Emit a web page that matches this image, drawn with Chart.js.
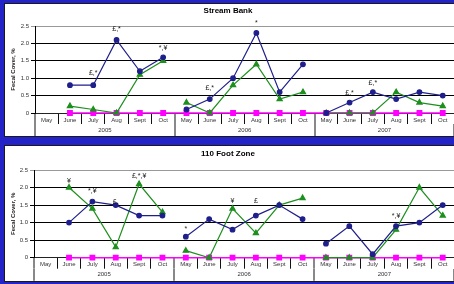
<!DOCTYPE html>
<html lang="en">
<head>
<meta charset="UTF-8">
<title>Fecal Cover</title>
<script src="https://cdn.jsdelivr.net/npm/chart.js"></script>
<style>
  html, body {
    margin: 0;
    padding: 0;
    height: 284px;
    overflow: hidden;
    background: #fff;
    font-family: "Liberation Sans", Arial, sans-serif;
  }
  .bg {
    position: absolute;
    left: 0; top: 0;
    width: 100%;
    height: 284px;
    background: #2323c8;
  }
  .panel {
    position: absolute;
    left: 4px;
    right: -30px;
    background: #fff;
    border: 1px solid #1a1a1a;
  }
  #p1 { top: 3px; height: 132px; }
  #p2 { top: 145px; height: 135px; }
  canvas { position: absolute; left: 0; }
  #c1 { top: 0; }
  #c2 { top: 140px; }
</style>
</head>
<body>
  <div class="bg"></div>
  <div class="panel" id="p1"></div>
  <div class="panel" id="p2"></div>
  <canvas id="c1" width="460" height="140"></canvas>
  <canvas id="c2" width="460" height="142"></canvas>

<script>
  const months = ['May', 'June', 'July', 'Aug', 'Sept', 'Oct'];
  const years = ['2005', '2006', '2007'];
  const categories = years.flatMap(() => months);

  // Stream Bank
  const streamBlue  = [null, 0.8, 0.8, 2.1, 1.2, 1.6,  0.1, 0.4, 1.0, 2.3, 0.6, 1.4,  0, 0.3, 0.6, 0.4, 0.6, 0.5];
  const streamGreen = [null, 0.2, 0.1, 0,   1.1, 1.5,  0.3, 0,   0.8, 1.4, 0.4, 0.6,  0, 0,   0,   0.6, 0.3, 0.2];
  const streamPink  = [null, 0,   0,   0,   0,   0,    0,   0,   0,   0,   0,   0,    0, 0,   0,   0,   0,   0];
  const streamNoteAt   = [2, 3, 5, 7, 9, 13, 14];
  const streamNoteText = ['£,*', '£,*', '*,¥', '£,*', '*', '£,*', '£,*'];
  const streamNoteY    = [1.15, 2.41, 1.87, 0.72, 2.59, 0.57, 0.86];

  // 110 Foot Zone
  const zoneBlue  = [null, 1.0, 1.6, 1.5, 1.2, 1.2,  0.6, 1.1, 0.8, 1.2, 1.5, 1.1,  0.4, 0.9, 0.1, 0.9, 1.0, 1.5];
  const zoneGreen = [null, 2.0, 1.4, 0.3, 2.1, 1.3,  0.2, 0,   1.4, 0.7, 1.5, 1.7,  0,   0,   0,   0.8, 2.0, 1.2];
  const zonePink  = [null, 0,   0,   0,   0,   0,    0,   0,   0,   0,   0,   0,    0,   0,   0,   0,   0,   0];
  const zoneNoteAt   = [1, 2, 3, 4, 6, 8, 9, 15];
  const zoneNoteText = ['¥', '*,¥', '£,', '£,*,¥', '*', '¥', '£', '*,¥'];
  const zoneNoteY    = [2.19, 1.90, 1.60, 2.34, 0.82, 1.62, 1.62, 1.19];

  const FONT = '"Liberation Sans", Arial, sans-serif';
  Chart.defaults.font.family = FONT;

  // little text marks above the points
  const notesPlugin = {
    id: 'notes',
    afterDatasetsDraw(chart, args, opts) {
      const { ctx, scales: { x, y } } = chart;
      ctx.save();
      ctx.font = '7px ' + FONT;
      ctx.fillStyle = '#222';
      ctx.textAlign = 'center';
      ctx.textBaseline = 'middle';
      opts.at.forEach((i, k) => {
        ctx.fillText(opts.text[k], x.getPixelForValue(i), y.getPixelForValue(opts.val[k]));
      });
      ctx.restore();
    }
  };

  // no line between Oct of one year and May of the next
  const yearGap = ctx => ctx.p0DataIndex % months.length === months.length - 1 ? 'rgba(0,0,0,0)' : undefined;

  function panelChart(id, title, blue, green, pink, notes, g) {
    return new Chart(document.getElementById(id), {
      type: 'line',
      data: {
        labels: categories,
        datasets: [
          { data: blue, borderColor: '#1f1f8c', backgroundColor: '#1f1f8c', borderWidth: 1.2,
            pointStyle: 'circle', pointRadius: 2.3, segment: { borderColor: yearGap }, clip: false },
          { data: green, borderColor: '#1d8f1d', backgroundColor: '#1d8f1d', borderWidth: 1.2,
            pointStyle: 'triangle', pointRadius: 3, segment: { borderColor: yearGap }, clip: false },
          { data: pink, borderColor: '#ff00ff', backgroundColor: '#ff00ff', borderWidth: 1.6,
            pointStyle: 'rect', pointRadius: 3, clip: false }
        ]
      },
      options: {
        responsive: false,
        animation: false,
        devicePixelRatio: 1,
        layout: { padding: { left: 0, right: 4, top: 0, bottom: g.padBottom } },
        plugins: {
          legend: { display: false },
          tooltip: { enabled: false },
          title: { display: true, text: title, color: '#000',
                   font: { size: 8, weight: 'bold' },
                   padding: { top: g.titleTop, bottom: g.titleBottom } },
          notes: notes
        },
        scales: {
          x: {
            type: 'category', position: 'bottom', offset: true, weight: 0,
            grid: { offset: true, drawOnChartArea: false, tickLength: 11,
                    color: c => c.index % 6 === 0 ? '#888' : '#111',
                    lineWidth: c => c.index % 6 === 0 ? 2 : 1 },
            border: { display: true, color: '#222' },
            ticks: { autoSkip: false, maxRotation: 0, padding: -7.6, color: '#333', font: { size: 6 } },
            afterFit: s => { s.height = 11; }
          },
          yr: {
            type: 'linear', position: 'bottom', min: 0, max: 18, weight: 1,
            afterBuildTicks: s => { s.ticks = [0, 3, 6, 9, 12, 15, 18].map(v => ({ value: v })); },
            ticks: { autoSkip: false, maxRotation: 0, padding: -9.6, color: '#333', font: { size: 6 },
                     callback: v => v % 6 === 3 ? years[(v - 3) / 6] : '' },
            grid: { drawOnChartArea: false, tickLength: 12, lineWidth: 2,
                    color: c => c.tick && c.tick.value % 6 === 0 ? '#888' : 'rgba(0,0,0,0)' },
            border: { display: false },
            afterFit: s => { s.height = 12; }
          },
          y: {
            min: 0, max: 2.5,
            ticks: { stepSize: 0.5, padding: 2, color: '#333', font: { size: 6 } },
            grid: { tickLength: 4, lineWidth: 1,
                    color: c => c.tick && c.tick.value === 2.5 ? '#999' : '#000' },
            border: { color: '#000' },
            title: { display: true, text: 'Fecal Cover, %', color: '#222',
                     font: { size: 6, weight: 'bold' }, padding: { top: 10, bottom: 0 } },
            afterFit: s => { s.width = g.axisX; }
          }
        }
      },
      plugins: [notesPlugin]
    });
  }

  panelChart('c1', 'Stream Bank', streamBlue, streamGreen, streamPink,
    { at: streamNoteAt, text: streamNoteText, val: streamNoteY },
    { axisX: 35, titleTop: 6.2, titleBottom: 10.2, padBottom: 4 });

  panelChart('c2', '110 Foot Zone', zoneBlue, zoneGreen, zonePink,
    { at: zoneNoteAt, text: zoneNoteText, val: zoneNoteY },
    { axisX: 34, titleTop: 9.2, titleBottom: 11.2, padBottom: 1.3 });
</script>
</body>
</html>
